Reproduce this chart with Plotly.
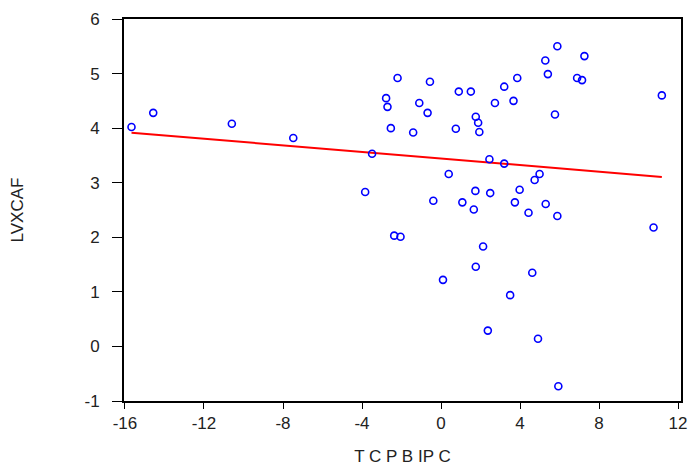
import numpy as np
import plotly.graph_objects as go

tcpbipc = [-15.67, -14.57, -10.59, -7.48, -3.49, -3.84, -2.78, -2.71, -2.54, -2.20,
           -2.37, -2.05, -1.41, -1.10, -0.68, -0.56, 0.75, 0.90, 1.51, 1.76,
           1.88, 1.94, 2.73, 3.20, 3.67, 3.86, 5.28, 5.41, 5.89, 5.77,
           6.89, 7.14, 7.26, 11.18, 2.45, 3.20, 0.39, 4.99, 4.74, 1.74,
           2.49, 3.98, -0.39, 1.08, 3.74, 5.30, 1.66, 4.43, 5.89, 10.76,
           2.13, 1.76, 4.62, 0.10, 3.50, 2.37, 4.91, 5.94]
lvxcaf = [4.02, 4.28, 4.08, 3.82, 3.53, 2.83, 4.55, 4.39, 4.00, 4.92,
          2.03, 2.01, 3.92, 4.46, 4.28, 4.85, 3.99, 4.67, 4.67, 4.21,
          4.10, 3.93, 4.46, 4.76, 4.50, 4.92, 5.24, 4.99, 5.50, 4.25,
          4.92, 4.88, 5.32, 4.60, 3.43, 3.35, 3.16, 3.16, 3.05, 2.85,
          2.81, 2.87, 2.67, 2.64, 2.64, 2.61, 2.51, 2.45, 2.39, 2.18,
          1.83, 1.46, 1.35, 1.22, 0.94, 0.29, 0.14, -0.73]
x_ticks = [-16, -12, -8, -4, 0, 4, 8, 12]
x_ticklabels = ["-16", "-12", "-8", "-4", "0", "4", "8", "12"]
y_ticks = [-1, 0, 1, 2, 3, 4, 5, 6]
y_ticklabels = ["-1", "0", "1", "2", "3", "4", "5", "6"]

x = np.array(tcpbipc)
y = np.array(lvxcaf)
slope, intercept = np.polyfit(x, y, 1)
xs = np.sort(x)
fit = intercept + slope * xs

fig = go.Figure()
fig.add_trace(go.Scatter(x=xs, y=fit, mode="lines",
                         line=dict(color="#ff0000", width=2), hoverinfo="skip"))
fig.add_trace(go.Scatter(x=x, y=y, mode="markers",
                         marker=dict(symbol="circle-open", size=7,
                                     line=dict(color="#0000ff", width=1.6),
                                     color="#0000ff")))

font = dict(family="Liberation Sans, Arial, sans-serif", size=17, color="#222")
axis_common = dict(showgrid=False, zeroline=False, showline=True, linecolor="black",
                   linewidth=2, mirror=True, ticks="outside", tickcolor="black",
                   tickwidth=1, tickfont=font, ticklabeloverflow="allow")
fig.update_xaxes(range=[-16.05, 12.15], tickvals=x_ticks, ticktext=x_ticklabels, ticklen=6,
                 title=dict(text="T C P B IP C", font=font, standoff=29), **axis_common)
fig.update_yaxes(range=[-1, 6], tickvals=y_ticks, ticktext=y_ticklabels, ticklen=10,
                 ticklabelstandoff=9,
                 title=dict(text="LVXCAF", font=font, standoff=58), **axis_common)
fig.update_layout(width=688, height=458, showlegend=False, autosize=False,
                  plot_bgcolor="white", paper_bgcolor="white",
                  margin=dict(l=116, r=15, t=11, b=65, autoexpand=False))
fig.write_html("out.html")
